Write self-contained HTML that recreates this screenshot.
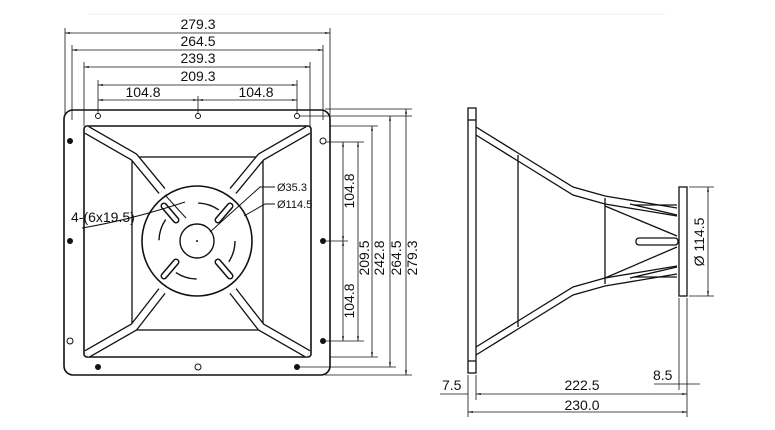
<!DOCTYPE html>
<html><head><style>body{margin:0;background:#fff}svg{display:block}text{font-family:"Liberation Sans",sans-serif;font-size:14px;fill:#111}</style></head><body>
<svg width="775" height="430" viewBox="0 0 775 430" xmlns="http://www.w3.org/2000/svg">
<defs><marker id="a" viewBox="0 0 10 10" refX="10" refY="5" markerWidth="6" markerHeight="6" orient="auto-start-reverse"><path d="M0,3L10,5L0,7z" fill="#111"/></marker></defs>
<line x1="88" y1="14" x2="665" y2="14" stroke="#eee"/>
<g stroke="#111" stroke-width="0.8" fill="none">
<line x1="65" y1="28" x2="65" y2="115"/><line x1="330" y1="28" x2="330" y2="115"/>
<line x1="65" y1="33" x2="330" y2="33" marker-start="url(#a)" marker-end="url(#a)"/>
<line x1="72" y1="45" x2="72" y2="120"/><line x1="323" y1="45" x2="323" y2="120"/>
<line x1="72" y1="50" x2="323" y2="50" marker-start="url(#a)" marker-end="url(#a)"/>
<line x1="84" y1="62" x2="84" y2="126"/><line x1="310" y1="62" x2="310" y2="126"/>
<line x1="84" y1="67" x2="310" y2="67" marker-start="url(#a)" marker-end="url(#a)"/>
<line x1="98" y1="80" x2="98" y2="114"/><line x1="297" y1="80" x2="297" y2="114"/>
<line x1="98" y1="85" x2="297" y2="85" marker-start="url(#a)" marker-end="url(#a)"/>
<line x1="98" y1="100" x2="198" y2="100" marker-start="url(#a)" marker-end="url(#a)"/>
<line x1="198" y1="100" x2="297" y2="100" marker-start="url(#a)" marker-end="url(#a)"/>
<line x1="198" y1="96" x2="198" y2="114"/>
<line x1="300" y1="116" x2="412" y2="116"/>
<line x1="325" y1="109" x2="412" y2="109"/>
<line x1="330" y1="126" x2="378" y2="126"/>
<line x1="326" y1="142" x2="364" y2="142"/>
<line x1="326" y1="241" x2="348" y2="241"/>
<line x1="326" y1="341" x2="364" y2="341"/>
<line x1="330" y1="357" x2="378" y2="357"/>
<line x1="300" y1="367" x2="396" y2="367"/>
<line x1="325" y1="375" x2="412" y2="375"/>
<line x1="343" y1="142" x2="343" y2="241" marker-start="url(#a)" marker-end="url(#a)"/>
<line x1="343" y1="241" x2="343" y2="341" marker-start="url(#a)" marker-end="url(#a)"/>
<line x1="358" y1="142" x2="358" y2="341" marker-start="url(#a)" marker-end="url(#a)"/>
<line x1="372" y1="126" x2="372" y2="357" marker-start="url(#a)" marker-end="url(#a)"/>
<line x1="390" y1="116" x2="390" y2="367" marker-start="url(#a)" marker-end="url(#a)"/>
<line x1="406" y1="109" x2="406" y2="375" marker-start="url(#a)" marker-end="url(#a)"/>
</g>
<g fill="#111">
<text x="198" y="29" text-anchor="middle">279.3</text>
<text x="198" y="46" text-anchor="middle">264.5</text>
<text x="198" y="63" text-anchor="middle">239.3</text>
<text x="198" y="81" text-anchor="middle">209.3</text>
<text x="143" y="97" text-anchor="middle">104.8</text>
<text x="256" y="97" text-anchor="middle">104.8</text>
<text transform="translate(354,191) rotate(-90)" text-anchor="middle">104.8</text>
<text transform="translate(354,301) rotate(-90)" text-anchor="middle">104.8</text>
<text transform="translate(369,258) rotate(-90)" text-anchor="middle">209.5</text>
<text transform="translate(384,258) rotate(-90)" text-anchor="middle">242.8</text>
<text transform="translate(401,258) rotate(-90)" text-anchor="middle">264.5</text>
<text transform="translate(417,258) rotate(-90)" text-anchor="middle">279.3</text>
</g>
<g stroke="#111" fill="none">
<rect x="64" y="110" width="266" height="265" rx="9" stroke-width="1.6"/>
<rect x="84" y="126" width="227" height="231" rx="3" stroke-width="1.6"/>
<rect x="132" y="157" width="131" height="173" stroke-width="1.3"/>
<g stroke-width="9" stroke-linejoin="round"><polyline points="87,130 134,157 162,191"/><polyline points="308,130 261,157 233,191"/><polyline points="87,354 134,327 162,291"/><polyline points="308,354 261,327 233,291"/></g>
<g stroke="#fff" stroke-width="6.4" stroke-linejoin="round"><polyline points="87,130 134,157 162,191"/><polyline points="308,130 261,157 233,191"/><polyline points="87,354 134,327 162,291"/><polyline points="308,354 261,327 233,291"/></g>
<circle cx="197" cy="241" r="55" fill="#fff" stroke-width="1.6"/>
<circle cx="197" cy="241" r="17" stroke-width="1.4"/>
<circle cx="197" cy="241" r="38" stroke-width="1.4" stroke-dasharray="22 38"/>
<g stroke-width="7" stroke-linecap="round"><line x1="164" y1="206" x2="176" y2="220"/><line x1="230" y1="206" x2="218" y2="220"/><line x1="164" y1="276" x2="176" y2="262"/><line x1="230" y1="276" x2="218" y2="262"/></g>
<g stroke="#fff" stroke-width="4" stroke-linecap="round"><line x1="164" y1="206" x2="176" y2="220"/><line x1="230" y1="206" x2="218" y2="220"/><line x1="164" y1="276" x2="176" y2="262"/><line x1="230" y1="276" x2="218" y2="262"/></g>
<g stroke-width="1"><path d="M82,228 Q130,220 185,202"/><line x1="165" y1="195" x2="186" y2="218"/>
<polyline points="210,232 260,187 275,187"/><polyline points="244,216 265,204 275,204"/></g>
</g>
<g fill="#111"><circle cx="197" cy="241" r="1"/>
<circle cx="70" cy="141" r="3"/><circle cx="70" cy="241" r="3"/><circle cx="70" cy="341" r="3" fill="#fff" stroke="#111"/>
<circle cx="323" cy="141" r="3" fill="#fff" stroke="#111"/><circle cx="323" cy="241" r="3"/><circle cx="323" cy="341" r="3"/>
<circle cx="98" cy="116" r="2.5" fill="#fff" stroke="#111"/><circle cx="198" cy="116" r="2.5" fill="#fff" stroke="#111"/><circle cx="297" cy="116" r="2.5" fill="#fff" stroke="#111"/>
<circle cx="98" cy="367" r="3"/><circle cx="198" cy="367" r="3" fill="#fff" stroke="#111"/><circle cx="297" cy="367" r="3"/>
<text x="71" y="222">4-(6x19.5)</text>
<text x="277" y="191" style="font-size:11px">Ø35.3</text>
<text x="277" y="208" style="font-size:11px">Ø114.5</text>
</g>
<g stroke="#111" fill="none" stroke-width="1.3">
<rect x="468" y="108" width="8" height="265"/>
<line x1="468" y1="120" x2="476" y2="120"/><line x1="468" y1="361" x2="476" y2="361"/>
<polyline points="476,127 518,153 573,187 605,196 677,208"/>
<polyline points="476,135 518,161 573,195 605,204 677,216"/>
<polyline points="476,355 518,329 573,295 605,286 677,274"/>
<polyline points="476,347 518,321 573,287 605,278 677,266"/>
<line x1="518" y1="155" x2="518" y2="327"/>
<line x1="605" y1="198" x2="605" y2="284"/>
<line x1="605" y1="206" x2="677" y2="236"/><line x1="605" y1="278" x2="677" y2="247"/>
<line x1="634" y1="205" x2="677" y2="205"/><line x1="634" y1="277" x2="677" y2="277"/>
<line x1="630" y1="204" x2="677" y2="215"/><line x1="630" y1="278" x2="677" y2="267"/>
<rect x="636" y="238" width="42" height="7" rx="3"/>
<rect x="679" y="187" width="8" height="109"/>
</g>
<g stroke="#111" fill="none" stroke-width="0.8">
<line x1="689" y1="187" x2="714" y2="187"/><line x1="689" y1="296" x2="714" y2="296"/>
<line x1="708" y1="187" x2="708" y2="296" marker-start="url(#a)" marker-end="url(#a)"/>
<line x1="468" y1="375" x2="468" y2="417"/><line x1="476" y1="375" x2="476" y2="400"/>
<line x1="679" y1="298" x2="679" y2="390"/><line x1="687" y1="298" x2="687" y2="417"/>
<line x1="440" y1="394" x2="468" y2="394"/><line x1="476" y1="394" x2="687" y2="394" marker-start="url(#a)" marker-end="url(#a)"/>
<line x1="468" y1="412" x2="687" y2="412" marker-start="url(#a)" marker-end="url(#a)"/>
<line x1="654" y1="384" x2="700" y2="384"/>
</g>
<g fill="#111">
<text transform="translate(704,242) rotate(-90)" text-anchor="middle">Ø 114.5</text>
<text x="442" y="390">7.5</text>
<text x="582" y="390" text-anchor="middle">222.5</text>
<text x="582" y="410" text-anchor="middle">230.0</text>
<text x="653" y="380">8.5</text>
</g>
</svg>
</body></html>
